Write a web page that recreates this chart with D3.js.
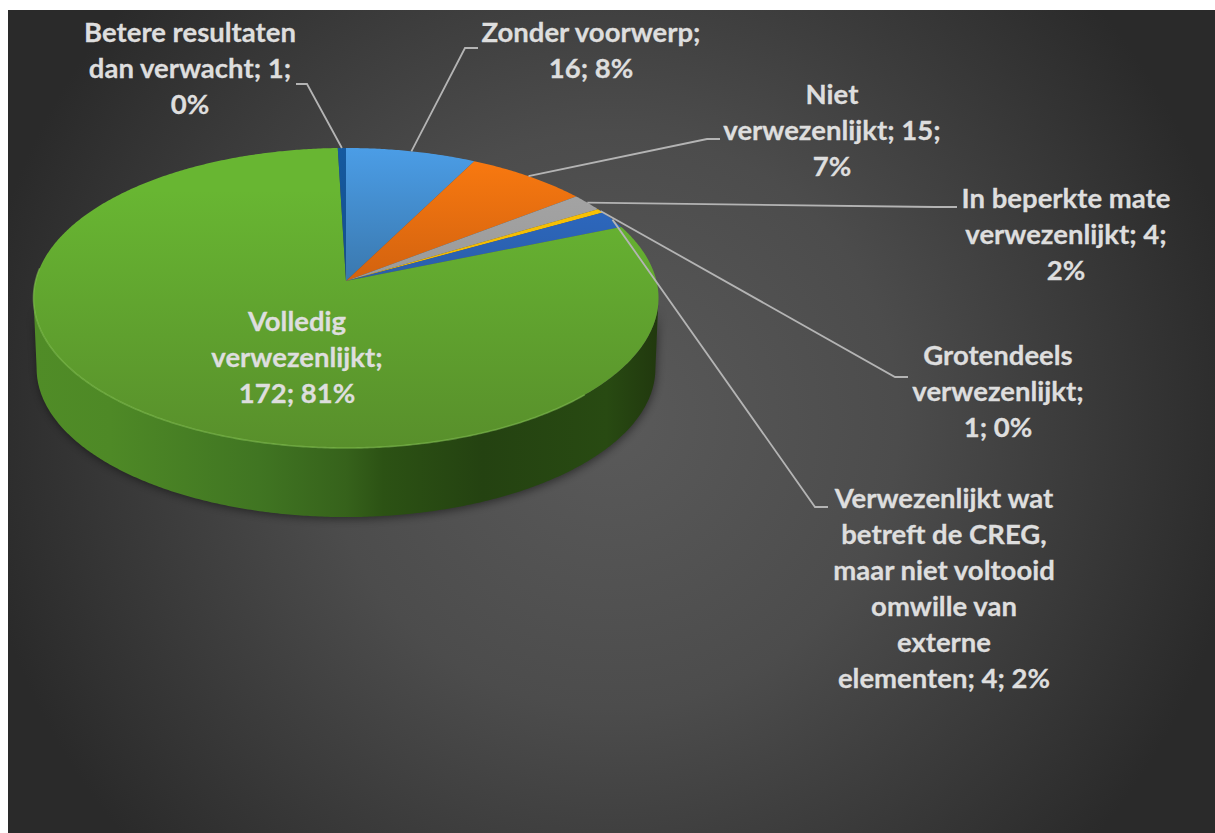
<!DOCTYPE html>
<html>
<head>
<meta charset="utf-8">
<script src="https://cdn.jsdelivr.net/npm/d3@7"></script>
<style>
  html, body { margin: 0; padding: 0; background: #fff; overflow: hidden; }
  svg { display: block; }
  text { font-family: Lato, "Open Sans", sans-serif; font-weight: 700; }
</style>
</head>
<body>
<div id="chart"></div>
<script>
// data (clockwise from 12 o'clock)
const categories = ["Zonder voorwerp", "Niet verwezenlijkt", "In beperkte mate verwezenlijkt", "Grotendeels verwezenlijkt",
  "Verwezenlijkt wat betreft de CREG, maar niet voltooid omwille van externe elementen", "Volledig verwezenlijkt", "Betere resultaten dan verwacht"];
const values = [16, 15, 4, 1, 4, 172, 1];
const labelLines = [
  ["Zonder voorwerp;", "16; 8%"],
  ["Niet", "verwezenlijkt; 15;", "7%"],
  ["In beperkte mate", "verwezenlijkt; 4;", "2%"],
  ["Grotendeels", "verwezenlijkt;", "1; 0%"],
  ["Verwezenlijkt wat", "betreft de CREG,", "maar niet voltooid", "omwille van", "externe", "elementen; 4; 2%"],
  ["Volledig", "verwezenlijkt;", "172; 81%"],
  ["Betere resultaten", "dan verwacht; 1;", "0%"]
];

// layout
const width = 1215, height = 833;
const topColors = [["#4b9de6", "#3a78ae"], ["#fc7b10", "#d2620f"], ["#a8a8a8", "#9a9a9a"], ["#ffc90a", "#f0b800"],
  ["#2f6fd0", "#2a5ea8"], ["#68b632", "#588f2b"], ["#15599f", "#144f8c"]];
const labelPos = [[591, 42], [832, 104], [1066, 208], [998, 365], [944, 508], [297, 331], [190, 42]];
const elbows = [[[465, 48], [478, 48]], [[707, 139], [720, 139]], [[935, 207], [957, 207]], [[895, 377], [908, 377]],
  [[815, 507], [828, 507]], null, [[307, 84], [296, 84]]];
const lineStep = 36;

// perspective tilt of the disc
const apexX = 346, apexY = 281, fx = 310.5, fy = 148.1, tilt = 0.1133;
function project(angle, r, dy, s) {
  const u = r * Math.sin(angle), v = r * Math.cos(angle), w = 1 + tilt * v;
  return [apexX + s * fx * u / w, apexY + dy - s * fy * v / w];
}

const svg = d3.select("#chart").append("svg").attr("width", width).attr("height", height);
const defs = svg.append("defs");

const bg = defs.append("radialGradient").attr("id", "bg").attr("gradientUnits", "userSpaceOnUse")
  .attr("cx", 610).attr("cy", 420).attr("r", 640);
bg.append("stop").attr("offset", 0).attr("stop-color", "#5a5a5a");
bg.append("stop").attr("offset", 0.45).attr("stop-color", "#4c4c4c");
bg.append("stop").attr("offset", 1).attr("stop-color", "#2a2a2a");

const side = defs.append("linearGradient").attr("id", "side").attr("gradientUnits", "userSpaceOnUse")
  .attr("x1", 36).attr("x2", 656).attr("y1", 0).attr("y2", 0);
[[0, "#508c27"], [0.12, "#4e8926"], [0.36, "#407522"], [0.5, "#36621b"], [0.56, "#2c5214"], [0.72, "#244211"], [0.92, "#284a12"], [1, "#21390e"]]
  .forEach(d => side.append("stop").attr("offset", d[0]).attr("stop-color", d[1]));

topColors.forEach((c, i) => {
  const g = defs.append("linearGradient").attr("id", "slice" + i).attr("gradientUnits", "userSpaceOnUse")
    .attr("x1", 0).attr("x2", 0).attr("y1", i === 5 ? 190 : 148).attr("y2", i === 5 ? 448 : 281);
  g.append("stop").attr("offset", 0).attr("stop-color", c[0]);
  g.append("stop").attr("offset", 1).attr("stop-color", c[1]);
});

defs.append("filter").attr("id", "soft").attr("x", "-10%").attr("y", "-10%").attr("width", "120%").attr("height", "120%")
  .append("feGaussianBlur").attr("stdDeviation", 4);
defs.append("filter").attr("id", "edge").attr("x", "-5%").attr("y", "-5%").attr("width", "110%").attr("height", "110%")
  .append("feGaussianBlur").attr("stdDeviation", 0.7);

svg.append("rect").attr("x", 8).attr("y", 10).attr("width", width - 8).attr("height", height - 10).attr("fill", "url(#bg)");

const line = d3.line();
const arcs = d3.pie().sort(null).value(d => d)(values);
const rimStep = Math.PI / 360;

function rimPoints(a0, a1, dy, s) {
  const n = Math.max(2, Math.ceil((a1 - a0) / rimStep));
  return d3.range(n + 1).map(i => project(a0 + (a1 - a0) * i / n, 1, dy, s));
}

// soft shadow and side wall, between the two silhouette tangents
const depth = 70.7, baseScale = 0.99;
const frontA = 96.5 * Math.PI / 180, frontB = 263.5 * Math.PI / 180;
const wall = rimPoints(frontA, frontB, 0, 1).concat(rimPoints(frontA, frontB, depth, baseScale).reverse());
svg.append("path").attr("d", line(wall) + "Z").attr("fill", "#000").attr("opacity", 0.45)
  .attr("filter", "url(#soft)").attr("transform", "translate(1,2)");
svg.append("path").attr("d", line(wall) + "Z").attr("fill", "url(#side)");

// top face
svg.selectAll("path.slice").data(arcs).join("path").attr("class", "slice")
  .attr("d", d => line([[apexX, apexY]].concat(rimPoints(d.startAngle, d.endAngle, 0, 1))) + "Z")
  .attr("fill", (d, i) => "url(#slice" + i + ")");

// lighter bevel along the front rim
svg.append("path").attr("d", line(rimPoints(135 * Math.PI / 180, 275 * Math.PI / 180, 0, 1)))
  .attr("fill", "none").attr("stroke", "#86c653").attr("stroke-width", 1.6).attr("opacity", 0.55)
  .attr("filter", "url(#edge)");

// leader lines start on the rim at each slice's middle angle
arcs.forEach((d, i) => {
  if (!elbows[i]) return;
  const start = project((d.startAngle + d.endAngle) / 2, 1, 0, 1);
  svg.append("path").attr("d", line([start].concat(elbows[i])))
    .attr("fill", "none").attr("stroke", "#b4b4b4").attr("stroke-width", 1.8);
});

// labels
labelLines.forEach((lines, i) => {
  const t = svg.append("text").attr("text-anchor", "middle").attr("fill", "#dedede").attr("font-size", 27.5)
    .attr("stroke", "#dedede").attr("stroke-width", 0.3);
  lines.forEach((s, j) => {
    t.append("tspan").attr("x", labelPos[i][0]).attr("y", labelPos[i][1] + j * lineStep).text(s);
  });
});
</script>
</body>
</html>
